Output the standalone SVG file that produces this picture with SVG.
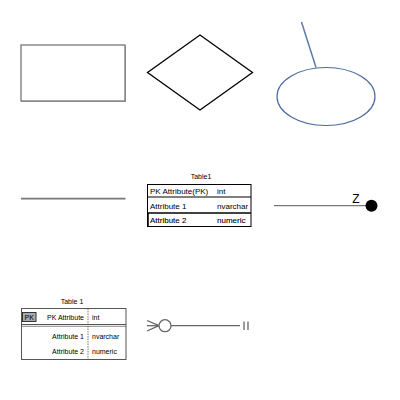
<svg xmlns="http://www.w3.org/2000/svg" width="400" height="400" viewBox="0 0 400 400">
<style>
text{font-family:"Liberation Sans",Arial,sans-serif;fill:#000}
.t8{font-size:8px}
.t7{font-size:7px}
.gray{stroke:#777;fill:none}
</style>
<rect width="400" height="400" fill="#fff"/>
<g id="entity">
<rect x="21" y="45" width="104" height="56" fill="#fff" stroke="#777" stroke-width="1.3"/>
<polyline points="125.5,45.5 125.5,101.5 21,101.5" fill="none" stroke="#777" stroke-width="1" opacity="0.6"/>
</g>
<g id="relationship">
<polygon points="200,35 252.5,72.5 200,110 147.5,72.5" fill="#fff" stroke="#000" stroke-width="1.3"/>
</g>
<g id="attribute">
<line x1="301.5" y1="22" x2="316" y2="67.5" stroke="#5b7bab" stroke-width="1.5"/>
<ellipse cx="326" cy="96.5" rx="49" ry="29" fill="#fff" stroke="#4a6a9e" stroke-width="1.2"/>
</g>
<g id="line">
<line x1="21" y1="198.7" x2="125.5" y2="198.7" stroke="#777" stroke-width="1.8"/>
</g>
<g id="table1">
<text class="t7" x="201" y="179" text-anchor="middle">Table1</text>
<rect x="147.5" y="184.5" width="103.5" height="42" fill="#fff" stroke="#000" stroke-width="1"/>
<line x1="147.5" y1="197" x2="251" y2="197" stroke="#000" stroke-width="1"/>
<line x1="147.5" y1="213" x2="251" y2="213" stroke="#000" stroke-width="1.3"/>
<line x1="148" y1="213" x2="148" y2="226.5" stroke="#000" stroke-width="1.5"/>
<text class="t8" x="150" y="193.5">PK Attribute(PK)</text>
<text class="t8" x="217" y="193.5">int</text>
<text class="t8" x="150" y="208.5">Attribute 1</text>
<text class="t8" x="217" y="208.5">nvarchar</text>
<text class="t8" x="150" y="223" font-weight="bold" stroke="#000" stroke-width="0.1" style="font-weight:normal">Attribute 2</text>
<text class="t8" x="217" y="223" stroke="#000" stroke-width="0.1">numeric</text>
</g>
<g id="zero-or-one">
<line x1="274" y1="205.7" x2="366" y2="205.7" stroke="#777" stroke-width="1.3"/>
<circle cx="371.5" cy="205.7" r="6" fill="#000"/>
<text x="356" y="203" font-size="12" text-anchor="middle">Z</text>
</g>
<g id="table2">
<text class="t7" x="72" y="303.5" text-anchor="middle">Table 1</text>
<rect x="21.5" y="308.5" width="104.5" height="51" fill="#fff" stroke="#555" stroke-width="1"/>
<line x1="21.5" y1="324.5" x2="126" y2="324.5" stroke="#555" stroke-width="1"/>
<line x1="21.5" y1="326.3" x2="126" y2="326.3" stroke="#555" stroke-width="0.7"/>
<line x1="88" y1="308.5" x2="88" y2="359.5" stroke="#555" stroke-width="0.8" stroke-dasharray="1.5,1"/>
<rect x="22.5" y="312.5" width="13.5" height="9" fill="#aaa" stroke="#333" stroke-width="1"/>
<text class="t7" x="29.2" y="319.6" text-anchor="middle">PK</text>
<text class="t7" x="84" y="319.5" text-anchor="end">PK Attribute</text>
<text class="t7" x="92" y="319.5">int</text>
<text class="t7" x="84" y="338.5" text-anchor="end">Attribute 1</text>
<text class="t7" x="92" y="338.5">nvarchar</text>
<text class="t7" x="84" y="354" text-anchor="end">Attribute 2</text>
<text class="t7" x="92" y="354">numeric</text>
</g>
<g id="connectors">
<g stroke="#666" stroke-width="1.3" fill="none">
<line x1="147" y1="320.5" x2="159" y2="325.7"/>
<line x1="147" y1="325.7" x2="159" y2="325.7"/>
<line x1="147" y1="331" x2="159" y2="325.7"/>
<circle cx="165" cy="325.7" r="6" fill="#fff"/>
<line x1="171" y1="325.7" x2="240" y2="325.7"/>
<line x1="244" y1="321.5" x2="244" y2="330"/>
<line x1="248" y1="321.5" x2="248" y2="330"/>
</g>
</g>
</svg>
